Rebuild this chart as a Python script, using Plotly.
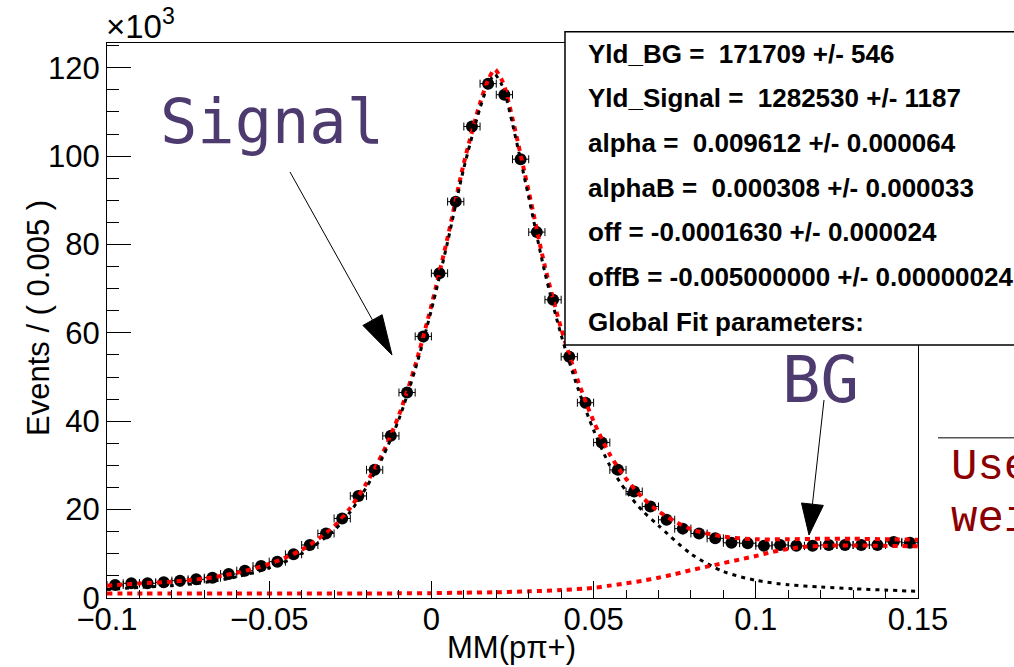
import numpy as np
import plotly.graph_objects as go

# ---- binned data: MM(p pi+) histogram, 50 bins of 0.005 from -0.1 to 0.15 ----
bin_lo = -0.1
bin_width = 0.005
n_bins = 50
bin_centers = [round(bin_lo + bin_width * (i + 0.5), 4) for i in range(n_bins)]

# events per bin, in units of 10^3
events_k = [2.94, 3.33, 3.33, 3.55, 3.92, 4.23, 4.60, 5.43, 6.18, 7.24,
            8.22, 9.89, 12.0, 14.6, 18.0, 23.1, 29.0, 36.7, 46.5, 59.2,
            73.5, 89.7, 106.7, 116.4, 113.9, 99.3, 82.8, 67.5, 54.6, 44.2,
            35.2, 29.0, 24.1, 20.7, 17.7, 15.7, 14.6, 13.5, 12.5, 12.4,
            11.8, 12.0, 11.8, 11.8, 12.0, 12.0, 12.0, 12.0, 12.7, 12.5]

# ---- fitted model curves (sampled), units of 10^3 ----
fit_x = [-0.1, -0.09, -0.08, -0.07, -0.06, -0.05, -0.04, -0.03, -0.025, -0.02,
         -0.015, -0.01, -0.005, 0.0, 0.005, 0.01, 0.015, 0.0175, 0.0195, 0.0215,
         0.0225, 0.025, 0.03, 0.035, 0.04, 0.045, 0.05, 0.055, 0.06, 0.065,
         0.07, 0.08, 0.09, 0.10, 0.11, 0.12, 0.13, 0.14, 0.15]
total_k = [2.8, 3.3, 3.7, 4.4, 5.7, 7.7, 10.9, 16.2, 20.4, 26.0,
           32.8, 41.4, 52.6, 66.2, 81.6, 98.4, 112.0, 117.2, 119.6, 117.5,
           115.8, 108.5, 92.0, 75.0, 61.0, 49.5, 40.0, 32.5, 27.0, 22.8,
           19.6, 15.6, 13.9, 13.3, 13.3, 13.4, 13.4, 13.3, 13.2]
signal_k = [1.9, 2.4, 2.8, 3.5, 4.8, 6.8, 10.0, 15.3, 19.5, 25.1,
            31.9, 40.5, 51.7, 65.2, 80.6, 97.3, 110.9, 116.1, 118.5, 116.4,
            114.7, 107.3, 90.7, 73.6, 59.5, 47.8, 38.0, 30.0, 24.2, 19.8,
            16.4, 10.0, 6.0, 4.0, 3.0, 2.5, 2.1, 1.8, 1.5]

bg_x = [-0.1, -0.08, -0.06, -0.04, -0.02, -0.01, 0.0, 0.01, 0.02, 0.03,
        0.04, 0.05, 0.055, 0.06, 0.065, 0.07, 0.075, 0.08, 0.085, 0.09,
        0.095, 0.10, 0.105, 0.11, 0.115, 0.12, 0.13, 0.14, 0.15]
bg_k = [1.0, 1.0, 1.0, 1.0, 1.0, 1.05, 1.1, 1.2, 1.3, 1.5,
        1.8, 2.3, 2.8, 3.3, 3.9, 4.6, 5.4, 6.3, 7.1, 7.9,
        8.7, 9.5, 10.4, 11.1, 11.6, 11.8, 11.9, 11.8, 11.7]

fit_params = [
    "Yld_BG =  171709 +/- 546",
    "Yld_Signal =  1282530 +/- 1187",
    "alpha =  0.009612 +/- 0.000064",
    "alphaB =  0.000308 +/- 0.000033",
    "off = -0.0001630 +/- 0.000024",
    "offB = -0.005000000 +/- 0.00000024",
    "Global Fit parameters:",
]

# ---- canvas geometry (pixels) ----
W, H = 1014, 667
ML, MR, MT, MB = 107, 96, 43, 69
PW, PH = W - ML - MR, H - MT - MB
X_RANGE = [-0.1, 0.15]
Y_RANGE = [0, 125.6]


def px2paper(px, py):
    return (px - ML) / PW, (H - MB - py) / PH


SANS = "Liberation Sans, Arial, Helvetica, sans-serif"
MONO = "DejaVu Sans Mono, monospace"
COURIER = "Liberation Mono, Courier New, monospace"
PURPLE = "#4d3a6f"

fig = go.Figure()

fig.add_trace(go.Scatter(
    x=bin_centers, y=events_k, mode="markers",
    marker=dict(symbol="circle", size=12, color="black"),
    error_x=dict(type="constant", value=bin_width / 2, color="black",
                 thickness=1, width=4),
    showlegend=False, hoverinfo="skip",
))
fig.add_trace(go.Scatter(
    x=fit_x, y=total_k, mode="lines",
    line=dict(color="#ff0000", width=4, dash="5px,5px", shape="spline", smoothing=0.8),
    showlegend=False, hoverinfo="skip",
))
fig.add_trace(go.Scatter(
    x=fit_x, y=signal_k, mode="lines",
    line=dict(color="black", width=3, dash="4px,5px", shape="spline", smoothing=0.8),
    showlegend=False, hoverinfo="skip",
))
fig.add_trace(go.Scatter(
    x=bg_x, y=bg_k, mode="lines",
    line=dict(color="#ff0000", width=4, dash="5px,5px", shape="spline", smoothing=0.8),
    showlegend=False, hoverinfo="skip",
))

shapes = []
annotations = []

# parameter box (runs past the right edge of the canvas)
bx0, by1 = px2paper(565, 31.7)
bx1, by0 = px2paper(1030, 345)
shapes.append(dict(type="rect", xref="paper", yref="paper", x0=bx0, x1=bx1,
                   y0=by0, y1=by1, fillcolor="white",
                   line=dict(color="black", width=1.5), layer="above"))
for k, txt in enumerate(fit_params):
    tx, ty = px2paper(586, 53.5 + k * 44.7)
    annotations.append(dict(xref="paper", yref="paper", x=tx, y=ty,
                            xanchor="left", yanchor="middle", showarrow=False,
                            text=txt, font=dict(family=SANS, size=26,
                                                color="black", weight="bold")))


def arrow(tail, tip, head_len, head_w):
    tail = np.array(tail, float)
    tip = np.array(tip, float)
    d = (tip - tail) / np.linalg.norm(tip - tail)
    perp = np.array([-d[1], d[0]])
    base = tip - head_len * d
    p1 = base + perp * head_w / 2
    p2 = base - perp * head_w / 2
    a = px2paper(*tail)
    b = px2paper(*base)
    shapes.append(dict(type="line", xref="paper", yref="paper",
                       x0=a[0], y0=a[1], x1=b[0], y1=b[1],
                       line=dict(color="black", width=1), layer="above"))
    pts = [px2paper(*p) for p in (tip, p1, p2)]
    path = "M {} {} L {} {} L {} {} Z".format(pts[0][0], pts[0][1], pts[1][0],
                                               pts[1][1], pts[2][0], pts[2][1])
    shapes.append(dict(type="path", xref="paper", yref="paper", path=path,
                       fillcolor="black", line=dict(color="black", width=1),
                       layer="above"))


arrow((290, 172), (392, 355), 40, 22)
arrow((824, 400), (809, 535), 31, 22)

sx, sy = px2paper(272, 121)
annotations.append(dict(xref="paper", yref="paper", x=sx, y=sy, showarrow=False,
                        text="Signal", xanchor="center", yanchor="middle",
                        font=dict(family=MONO, size=62, color=PURPLE)))
gx, gy = px2paper(820, 380)
annotations.append(dict(xref="paper", yref="paper", x=gx, y=gy, showarrow=False,
                        text="BG", xanchor="center", yanchor="middle",
                        font=dict(family=MONO, size=64, color=PURPLE)))

# side note panel at the right edge
lx0, ly = px2paper(938, 437.7)
lx1, _ = px2paper(1030, 437.7)
shapes.append(dict(type="line", xref="paper", yref="paper", x0=lx0, x1=lx1,
                   y0=ly, y1=ly, line=dict(color="#555555", width=1.5)))
for txt, cy in (("Use", 467), ("wei", 519)):
    ux, uy = px2paper(949, cy)
    annotations.append(dict(xref="paper", yref="paper", x=ux, y=uy, showarrow=False,
                            text=txt, xanchor="left", yanchor="middle",
                            font=dict(family=COURIER, size=44, color="#8b0000")))

# axis titles and exponent
tx, ty = px2paper(511, 647)
annotations.append(dict(xref="paper", yref="paper", x=tx, y=ty, showarrow=False,
                        text="MM(pπ+)", xanchor="center", yanchor="middle",
                        font=dict(family=SANS, size=31, color="black")))
tx, ty = px2paper(38, 318)
annotations.append(dict(xref="paper", yref="paper", x=tx, y=ty, showarrow=False,
                        text="Events / ( 0.005 )", textangle=-90,
                        xanchor="center", yanchor="middle",
                        font=dict(family=SANS, size=31, color="black")))
tx, ty = px2paper(104, 24)
annotations.append(dict(xref="paper", yref="paper", x=tx, y=ty, showarrow=False,
                        text="×10<sup>3</sup>", xanchor="left", yanchor="middle",
                        font=dict(family=SANS, size=33, color="black")))

axis_common = dict(showline=True, linecolor="black", linewidth=1, mirror=True,
                   showgrid=False, zeroline=False, ticks="inside",
                   tickcolor="black", tickwidth=1,
                   tickfont=dict(family=SANS, size=31, color="black"))

fig.update_layout(
    width=W, height=H,
    margin=dict(l=ML, r=MR, t=MT, b=MB, pad=0),
    paper_bgcolor="white", plot_bgcolor="white",
    xaxis=dict(range=X_RANGE, tickvals=[-0.1, -0.05, 0, 0.05, 0.1, 0.15],
               ticktext=["−0.1", "−0.05", "0", "0.05", "0.1", "0.15"],
               ticklen=17, ticklabelstandoff=-6,
               minor=dict(dtick=0.01, tick0=0, ticks="inside", ticklen=8.5,
                          tickcolor="black", tickwidth=1),
               **axis_common),
    yaxis=dict(range=Y_RANGE, tickvals=[0, 20, 40, 60, 80, 100, 120],
               ticklen=24,
               minor=dict(dtick=5, tick0=0, ticks="inside", ticklen=12,
                          tickcolor="black", tickwidth=1),
               **axis_common),
    shapes=shapes, annotations=annotations,
)

fig.write_html("out.html")
